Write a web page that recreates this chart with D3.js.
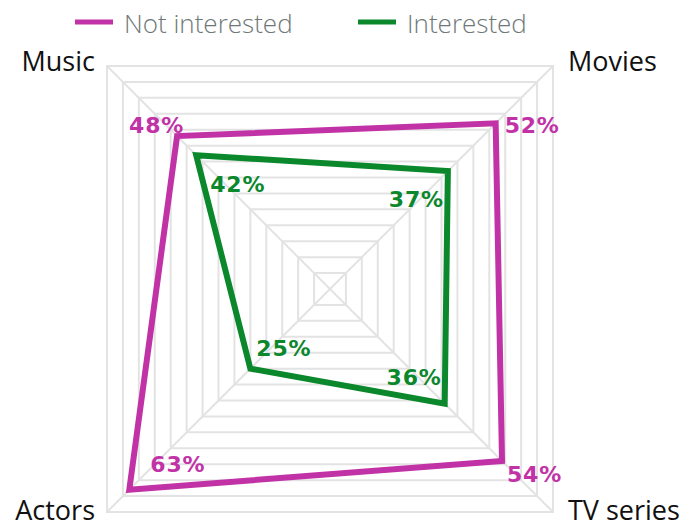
<!DOCTYPE html>
<html>
<head>
<meta charset="utf-8">
<script src="https://cdn.jsdelivr.net/npm/d3@7"></script>
<style>
  html, body { margin: 0; padding: 0; background: #ffffff; }
  svg { display: block; }
</style>
</head>
<body>
<svg id="chart" width="692" height="528"></svg>
<script>
// Axes of the radar, clockwise from the top-right corner
const categories = ["Movies", "TV series", "Actors", "Music"];
const seriesNames = ["Not interested", "Interested"];
const notInterested = [52, 54, 63, 48];
const interested = [37, 36, 25, 42];
const gridLevels = d3.range(5, 71, 5); // 5% ... 70%
const maxValue = 70;

const colors = { "Not interested": "#c232a7", "Interested": "#0b872c" };

// Label offsets (dx, dy, anchor) relative to each vertex
const labelOffsets = {
  "Not interested": [[9, 10, "start"], [5, 21, "start"], [21, -18, "start"], [7, -3, "end"]],
  "Interested":     [[-4, 36, "end"], [-3, -19, "end"], [6, -13, "start"], [14, 37, "start"]]
};

const svg = d3.select("#chart");
const cx = 330, cy = 289, half = 223;
const rScale = d3.scaleLinear().domain([0, maxValue]).range([0, half * Math.SQRT2]);
const angle = i => Math.PI / 4 + i * Math.PI / 2;

const g = svg.append("g").attr("transform", `translate(${cx},${cy})`);

// Grid squares
const gridLine = d3.lineRadial()
  .angle((d, i) => angle(i))
  .radius(d => rScale(d))
  .curve(d3.curveLinearClosed);

g.append("g").selectAll("path")
  .data(gridLevels)
  .join("path")
  .attr("d", lv => gridLine(categories.map(() => lv)))
  .attr("fill", "none")
  .attr("stroke", "#e3e3e3")
  .attr("stroke-width", 2);

// Spokes
g.append("g").selectAll("line")
  .data(categories)
  .join("line")
  .attr("x1", 0).attr("y1", 0)
  .attr("x2", (d, i) => d3.pointRadial(angle(i), rScale(maxValue))[0])
  .attr("y2", (d, i) => d3.pointRadial(angle(i), rScale(maxValue))[1])
  .attr("stroke", "#e3e3e3")
  .attr("stroke-width", 2);

// Series polygons
const seriesData = [
  { name: "Interested", values: interested },
  { name: "Not interested", values: notInterested }
];

const seriesLine = d3.lineRadial()
  .angle((d, i) => angle(i))
  .radius(d => rScale(d))
  .curve(d3.curveLinearClosed);

g.append("g").selectAll("path")
  .data(seriesData)
  .join("path")
  .attr("d", s => seriesLine(s.values))
  .attr("fill", "none")
  .attr("stroke", s => colors[s.name])
  .attr("stroke-width", 6)
  .attr("stroke-linejoin", "miter");

// Value labels
seriesData.forEach(s => {
  g.append("g").selectAll("text")
    .data(s.values)
    .join("text")
    .attr("x", (v, i) => d3.pointRadial(angle(i), rScale(v))[0] + labelOffsets[s.name][i][0])
    .attr("y", (v, i) => d3.pointRadial(angle(i), rScale(v))[1] + labelOffsets[s.name][i][1])
    .attr("text-anchor", (v, i) => labelOffsets[s.name][i][2])
    .attr("fill", colors[s.name])
    .style("font-family", "'DejaVu Sans', sans-serif")
    .style("font-weight", "bold")
    .style("font-size", "22px")
    .style("letter-spacing", "0.8px")
    .text(v => v + "%");
});

// Category labels outside the corners
g.append("g").selectAll("text")
  .data(categories)
  .join("text")
  .each(function(d, i) {
    const [px, py] = d3.pointRadial(angle(i), rScale(maxValue));
    const right = px > 0, bottom = py > 0;
    d3.select(this)
      .attr("x", px + (right ? 15 : -12))
      .attr("y", py + (bottom ? 8 : 5))
      .attr("text-anchor", right ? "start" : "end");
  })
  .attr("fill", "#111111")
  .style("font-family", "'Open Sans', sans-serif")
  .style("font-size", "27px")
  .text(d => d);

// Legend
const legendX = [75, 358];
const legend = svg.append("g").selectAll("g")
  .data(seriesNames)
  .join("g")
  .attr("transform", (d, i) => `translate(${legendX[i]},22)`);

legend.append("line")
  .attr("x1", 0).attr("x2", 38)
  .attr("y1", 0).attr("y2", 0)
  .attr("stroke", d => colors[d])
  .attr("stroke-width", 5);

legend.append("text")
  .attr("x", 49)
  .attr("y", 11)
  .attr("fill", "#6f7878")
  .style("font-family", "'Open Sans', sans-serif")
  .style("font-weight", "300")
  .style("font-size", "26px")
  .text(d => d);
</script>
</body>
</html>
